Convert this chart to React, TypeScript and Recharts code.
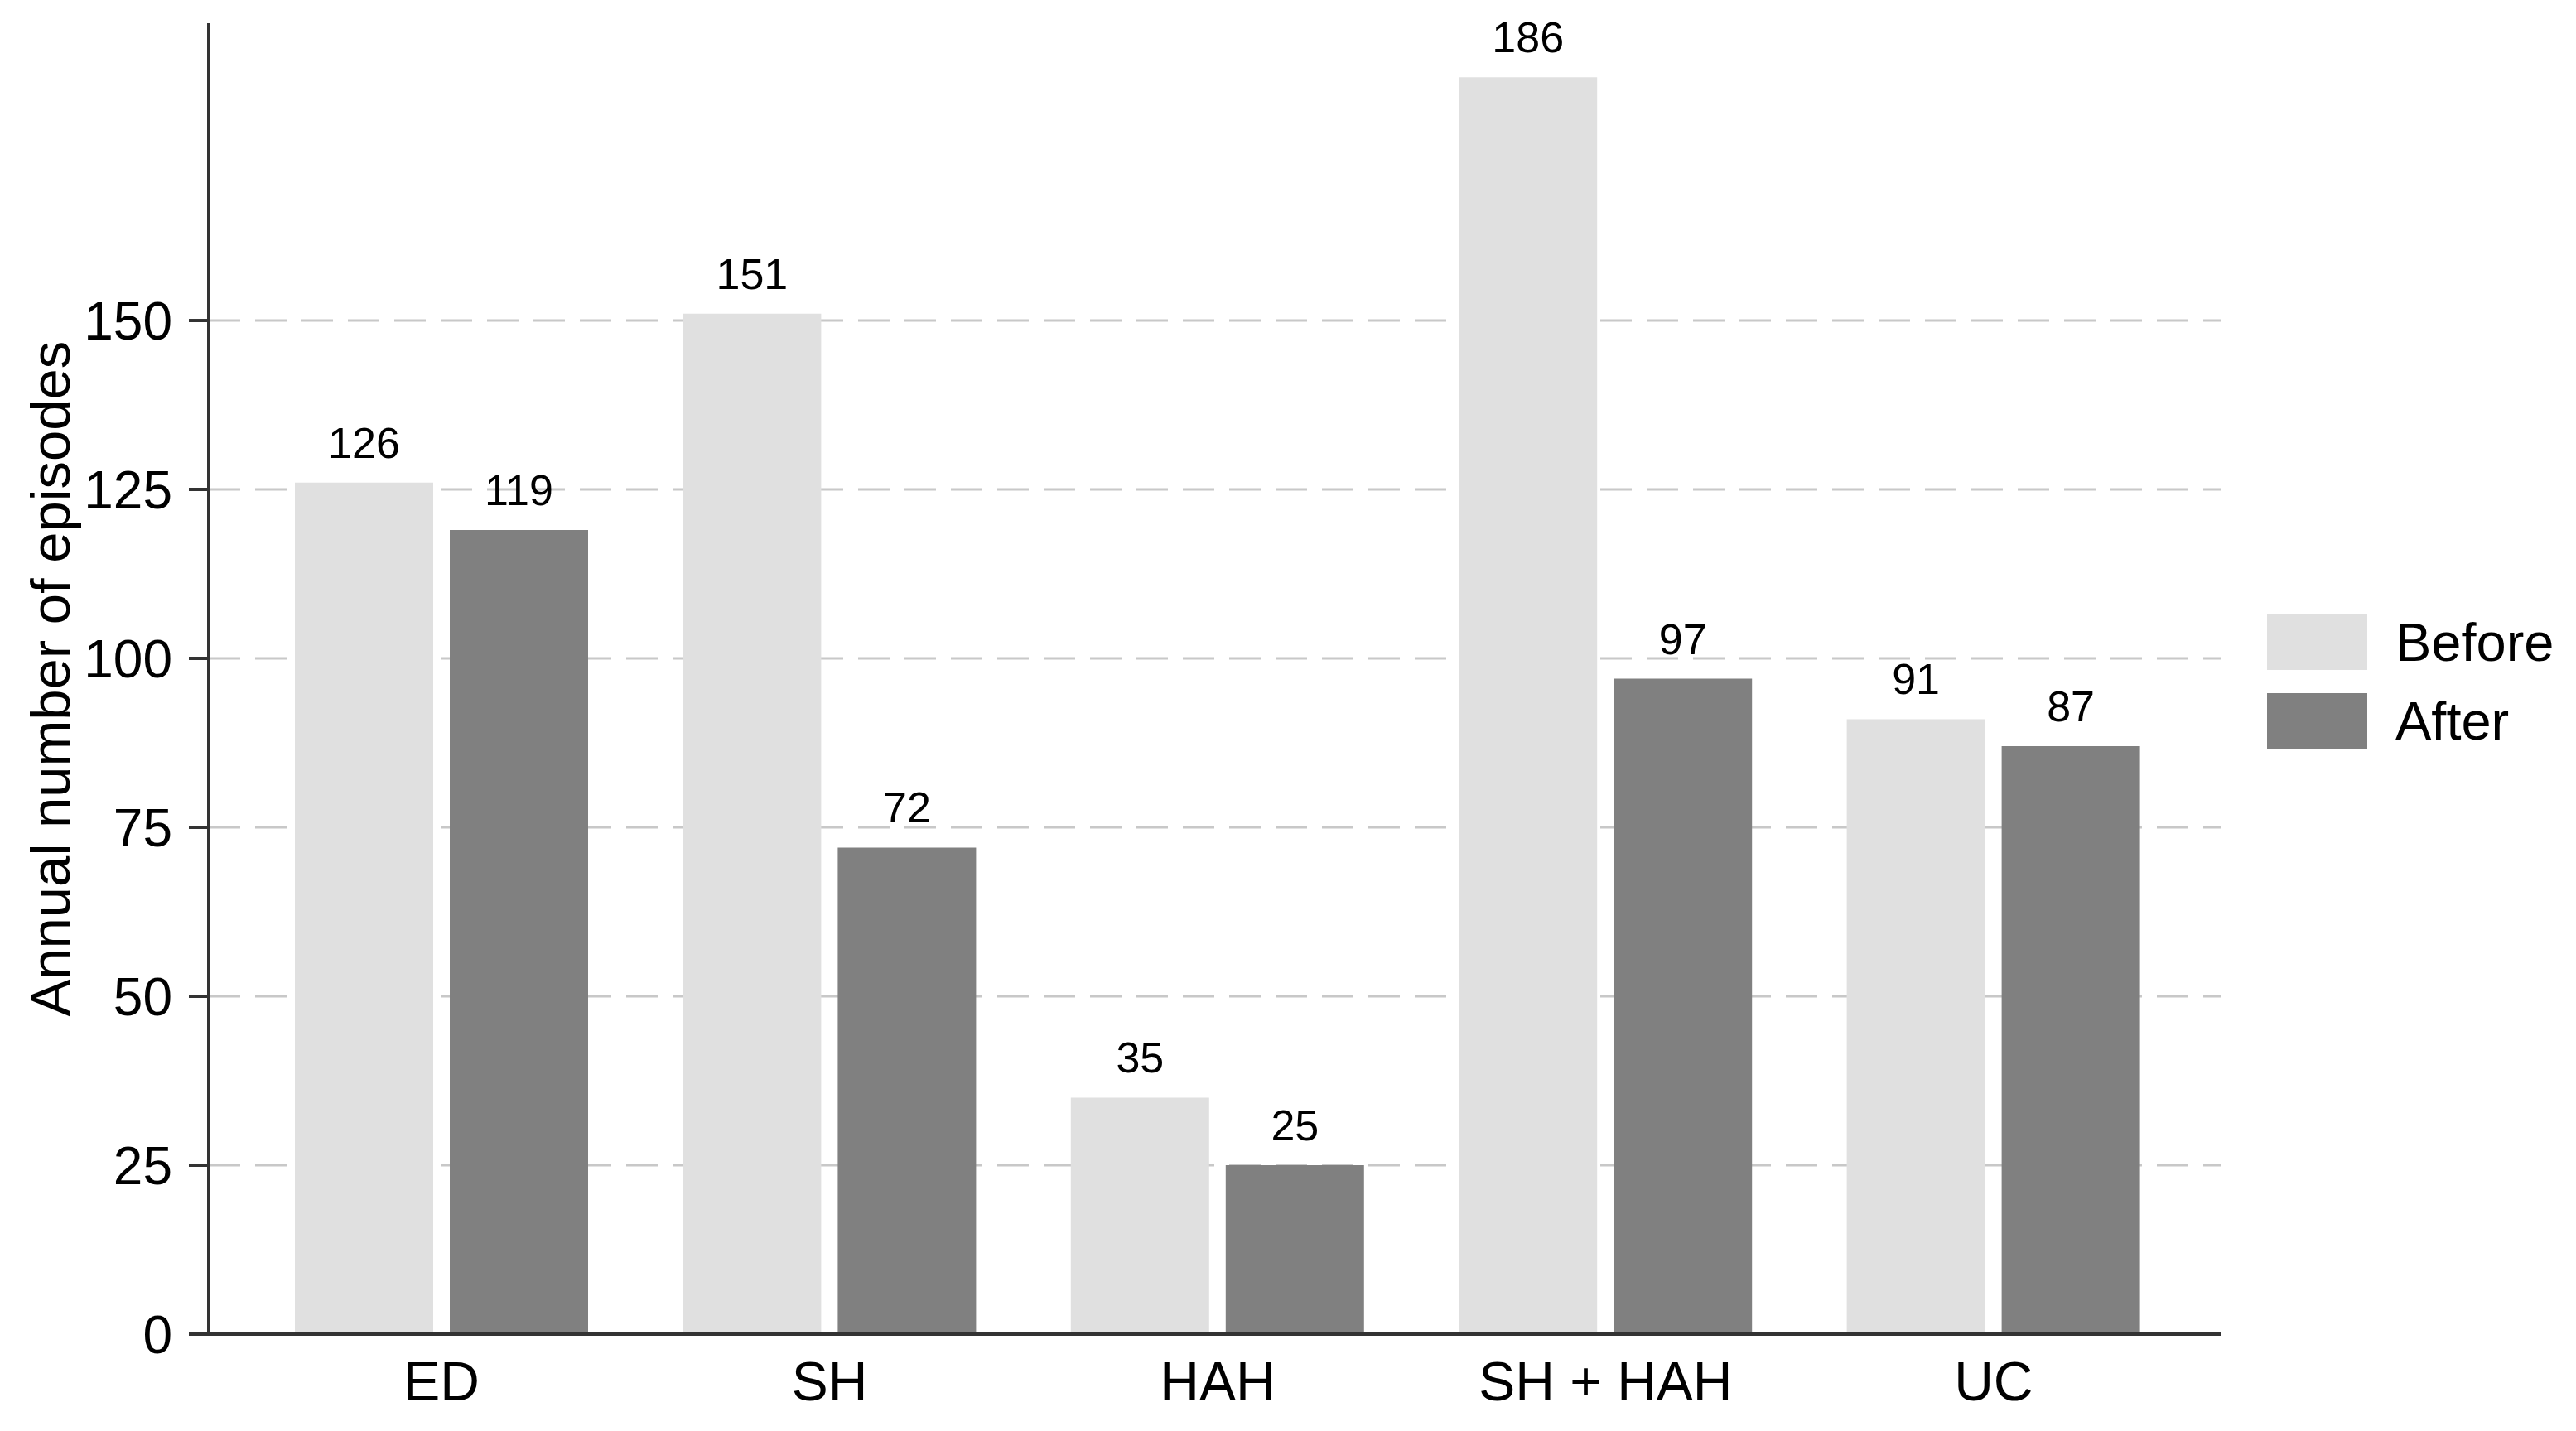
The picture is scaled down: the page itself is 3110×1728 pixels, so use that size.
import { BarChart, Bar, XAxis, YAxis, CartesianGrid, LabelList } from 'recharts';

// ── Datos ─────────────────────────────────────────────────────────────────────

const categories = ['ED', 'SH', 'HAH', 'SH + HAH', 'UC'];
const beforeValues = [126, 151, 35, 186, 91];
const afterValues = [119, 72, 25, 97, 87];
const yTicks = [0, 25, 50, 75, 100, 125, 150];
const gridValues = [25, 50, 75, 100, 125, 150];
const seriesNames = ['Before', 'After'];

const COLOR_BEFORE = '#e0e0e0';
const COLOR_AFTER = '#808080';
const AXIS_COLOR = '#333333';
const FONT = '"Liberation Sans", Arial, Helvetica, sans-serif';

const data = categories.map((cat, i) => ({
  cat,
  before: beforeValues[i],
  after: afterValues[i],
}));

// ── Leyenda (overlay) ─────────────────────────────────────────────────────────

const LegendBox = () => {
  const colors = [COLOR_BEFORE, COLOR_AFTER];
  return (
    <div style={{ position: 'absolute', left: 2737, top: 742 }}>
      {seriesNames.map((name, i) => (
        <div
          key={name}
          style={{ display: 'flex', alignItems: 'center', height: 67, marginBottom: 28 }}
        >
          <div style={{ width: 121, height: 67, background: colors[i] }} />
          <span style={{ marginLeft: 34, fontSize: 65, color: '#000', lineHeight: 1 }}>{name}</span>
        </div>
      ))}
    </div>
  );
};

// ── Componente principal ──────────────────────────────────────────────────────

export default function App() {
  return (
    <div
      style={{
        position: 'absolute',
        left: 0,
        top: 0,
        width: 3110,
        height: 1728,
        background: '#fff',
        fontFamily: FONT,
      }}
    >
      <BarChart
        width={3110}
        height={1728}
        data={data}
        margin={{ top: 28, right: 428, bottom: 0, left: 0 }}
        barSize={167}
        barGap={20}
      >
        {/* Solo líneas horizontales en 25..150 */}
        <CartesianGrid
          horizontal
          vertical={false}
          horizontalValues={gridValues}
          stroke="#c8c8c8"
          strokeWidth={3}
          strokeDasharray="38 18"
        />

        <XAxis
          dataKey="cat"
          height={117}
          padding={{ left: 47, right: 41 }}
          axisLine={{ stroke: AXIS_COLOR, strokeWidth: 4 }}
          tickLine={false}
          tickSize={0}
          tickMargin={33}
          tick={{ fontSize: 66, fill: '#000', fontFamily: FONT }}
        />

        <YAxis
          width={252}
          domain={[0, 194]}
          ticks={yTicks}
          interval={0}
          allowDataOverflow
          axisLine={{ stroke: AXIS_COLOR, strokeWidth: 4 }}
          tickLine={{ stroke: AXIS_COLOR, strokeWidth: 4 }}
          tickSize={24}
          tickMargin={20}
          tick={{ fontSize: 64, fill: '#000', fontFamily: FONT }}
          label={{
            value: 'Annual number of episodes',
            angle: -90,
            position: 'insideLeft',
            offset: 60,
            style: { textAnchor: 'middle', fontSize: 67, fill: '#000', fontFamily: FONT },
          }}
        />

        <Bar dataKey="before" fill={COLOR_BEFORE} isAnimationActive={false}>
          <LabelList
            dataKey="before"
            position="top"
            offset={30}
            style={{ fontSize: 52, fill: '#000', fontFamily: FONT }}
          />
        </Bar>
        <Bar dataKey="after" fill={COLOR_AFTER} isAnimationActive={false}>
          <LabelList
            dataKey="after"
            position="top"
            offset={30}
            style={{ fontSize: 52, fill: '#000', fontFamily: FONT }}
          />
        </Bar>
      </BarChart>
      <LegendBox />
    </div>
  );
}
